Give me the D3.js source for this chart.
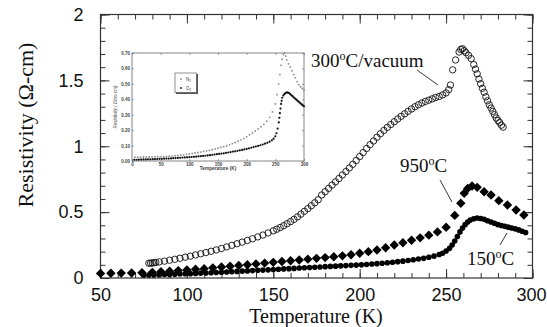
<!DOCTYPE html>
<html><head><meta charset="utf-8">
<script src="https://cdn.jsdelivr.net/npm/d3@7"></script>
<style>body{margin:0;background:#fff}svg{display:block}</style>
</head><body><svg id="c" width="547" height="327"></svg>
<script>
// ---- data ----
const xTicksMajor = [50,100,150,200,250,300];
const yTicksMajor = [0,0.5,1,1.5,2];
const yTickLabels = ["0","0.5","1","1.5","2"];

const vacuumT = [78,79,80,81,82,84,87,90,93,96,99,102,105,108,111,114,117,120,123,126,129,132,135,138,141,144,147,150,152,154,156,158,160,162,164,166,168,170,172,174,176,178,180,182,184,186,188,190,192,194,196,198,200,202,204,206,208,210,212,214,216,218,220,222,224,226,228,230,232,234,236,238,240,242,244,246,248,250,251.5,252.5,253.8,255.5,257.5,258.5,259.5,260.5,261.5,263,264.5,266,267,268,269,270,271,272,273,274,275,276,277,278,279,280,281,282,283];
const vacuumRho = [0.112,0.113,0.114,0.116,0.118,0.122,0.128,0.135,0.142,0.150,0.158,0.166,0.175,0.184,0.193,0.203,0.213,0.224,0.236,0.248,0.260,0.272,0.285,0.298,0.312,0.326,0.342,0.358,0.370,0.383,0.397,0.412,0.428,0.445,0.464,0.485,0.506,0.527,0.549,0.571,0.594,0.63,0.655,0.68,0.705,0.73,0.755,0.782,0.808,0.835,0.863,0.892,0.922,0.952,0.983,1.012,1.04,1.068,1.095,1.12,1.143,1.165,1.186,1.207,1.227,1.246,1.265,1.283,1.300,1.315,1.328,1.340,1.350,1.360,1.370,1.378,1.390,1.405,1.43,1.465,1.58,1.655,1.715,1.735,1.74,1.725,1.71,1.69,1.665,1.62,1.585,1.55,1.51,1.475,1.44,1.41,1.375,1.345,1.315,1.29,1.265,1.24,1.215,1.195,1.18,1.16,1.145];

const t950 = [50,56,62,68,74,80,85,90,95,100,105,110,115,120,125,130,135,140,145,150,155,160,165,170,175,180,185,190,195,200,205,210,215,220,225,230,235,240,245,250,255,258.5,260.5,262.5,265,268,272,276,280.5,285.5,290.5,295];
const rho950 = [0.035,0.036,0.037,0.038,0.040,0.043,0.047,0.051,0.056,0.061,0.066,0.071,0.077,0.083,0.089,0.095,0.101,0.107,0.113,0.119,0.125,0.131,0.137,0.143,0.149,0.155,0.161,0.168,0.176,0.188,0.200,0.213,0.230,0.250,0.268,0.287,0.305,0.325,0.350,0.385,0.475,0.567,0.643,0.68,0.698,0.688,0.655,0.63,0.587,0.554,0.516,0.478];

const t150 = [75,78,81,84,87,90,93,96,99,102,105,108,111,114,117,120,123,126,129,132,135,138,141,144,147,150,153,156,159,162,165,168,171,174,177,180,183,186,189,192,195,198,201,204,207,210,213,216,219,222,225,228,231,234,237,240,243,246,248,250,252,253.5,255,256.5,258,259.5,261,262.5,264,266,268,270,272,274,276,278,280,282,284,286,288,290,292,294,296];
const rho150 = [0.022,0.023,0.024,0.025,0.026,0.027,0.029,0.030,0.032,0.033,0.035,0.037,0.038,0.040,0.042,0.044,0.046,0.048,0.050,0.052,0.054,0.056,0.058,0.060,0.062,0.064,0.066,0.069,0.071,0.073,0.076,0.078,0.080,0.082,0.084,0.086,0.088,0.090,0.092,0.094,0.096,0.098,0.100,0.103,0.106,0.109,0.112,0.116,0.120,0.124,0.128,0.133,0.138,0.144,0.150,0.157,0.166,0.178,0.188,0.205,0.225,0.25,0.28,0.315,0.35,0.38,0.405,0.425,0.44,0.45,0.455,0.452,0.445,0.435,0.425,0.415,0.405,0.398,0.392,0.386,0.38,0.373,0.365,0.355,0.345];

// inset
const insetXTicks = [0,50,100,150,200,250,300];
const insetYTicks = [0,0.1,0.2,0.3,0.4,0.5,0.6,0.7];
const insetN2T = [5,10,15,20,25,30,35,40,45,50,55,60,65,70,75,80,85,90,95,100,105,110,115,120,125,130,135,140,145,150,155,160,165,170,175,180,185,190,195,200,205,210,215,220,225,230,235,240,245,250,253,256,258,260,262,264,266,268,270,273,276,279,282,285,288,291,294,297,300];
const insetN2 = [0.025,0.025,0.025,0.026,0.026,0.026,0.027,0.027,0.028,0.028,0.029,0.030,0.031,0.032,0.034,0.036,0.038,0.040,0.043,0.046,0.049,0.052,0.055,0.058,0.062,0.065,0.069,0.073,0.078,0.083,0.088,0.093,0.099,0.105,0.112,0.120,0.128,0.137,0.147,0.158,0.170,0.182,0.195,0.208,0.222,0.238,0.258,0.283,0.318,0.37,0.43,0.50,0.56,0.62,0.66,0.69,0.70,0.68,0.655,0.63,0.61,0.585,0.56,0.54,0.515,0.495,0.48,0.47,0.46];
const insetO2T = [4,8,12,16,20,24,28,32,36,40,44,48,52,56,60,64,68,72,76,80,84,88,92,96,100,104,108,112,116,120,124,128,132,136,140,144,148,152,156,160,164,168,172,176,180,184,188,192,196,200,204,208,212,216,220,224,228,232,236,240,244,247,250,252,254,256,257,258,259,260,261,262,264,266,268,270,272,274,276,278,280,282,284,286,288,290,292,294,296,298,300];
const insetO2 = [0.008,0.008,0.009,0.009,0.010,0.010,0.011,0.011,0.012,0.012,0.013,0.014,0.014,0.015,0.016,0.016,0.017,0.018,0.019,0.020,0.021,0.022,0.023,0.024,0.025,0.026,0.027,0.028,0.030,0.031,0.033,0.034,0.036,0.038,0.040,0.042,0.044,0.046,0.048,0.050,0.053,0.055,0.058,0.061,0.063,0.066,0.069,0.072,0.075,0.078,0.082,0.086,0.090,0.094,0.098,0.102,0.107,0.112,0.118,0.125,0.134,0.145,0.16,0.18,0.21,0.25,0.28,0.31,0.34,0.37,0.39,0.41,0.425,0.435,0.44,0.445,0.443,0.44,0.433,0.426,0.42,0.413,0.406,0.40,0.393,0.386,0.38,0.373,0.367,0.36,0.355];

// ---- chart ----
const svg = d3.select("#c");
const L=100.5, R=532.5, T=14.5, B=278;
const x = d3.scaleLinear().domain([50,300]).range([L,R]);
const y = d3.scaleLinear().domain([0,2]).range([B,T]);
const frameColor="#333";

const minorX = d3.range(50,301,10), minorY = d3.range(0,2.001,0.1);
function axisGroup(axis, tf){ const g=svg.append("g").attr("transform",tf).call(axis); g.select(".domain").remove(); g.selectAll("line").attr("stroke",frameColor).attr("stroke-width",1); return g; }
axisGroup(d3.axisBottom(x).tickValues(minorX).tickSize(-5).tickFormat(""), `translate(0,${B})`);
axisGroup(d3.axisTop(x).tickValues(minorX).tickSize(-5).tickFormat(""), `translate(0,${T})`);
axisGroup(d3.axisLeft(y).tickValues(minorY).tickSize(-5).tickFormat(""), `translate(${L},0)`);
axisGroup(d3.axisRight(y).tickValues(minorY).tickSize(-5).tickFormat(""), `translate(${R},0)`);
const gx = axisGroup(d3.axisBottom(x).tickValues(xTicksMajor).tickSize(-9).tickPadding(10).tickFormat(d3.format("d")), `translate(0,${B})`);
axisGroup(d3.axisTop(x).tickValues(xTicksMajor).tickSize(-9).tickFormat(""), `translate(0,${T})`);
const gy = axisGroup(d3.axisLeft(y).tickValues(yTicksMajor).tickSize(-9).tickPadding(17).tickFormat((d,i)=>yTickLabels[i]), `translate(${L},0)`);
axisGroup(d3.axisRight(y).tickValues(yTicksMajor).tickSize(-9).tickFormat(""), `translate(${R},0)`);
[gx,gy].forEach(g=>g.selectAll("text").attr("font-family","Liberation Sans, Arial, sans-serif").attr("font-size",18).attr("fill","#111"));
gx.selectAll("text").filter(d=>d===300).attr("dx",-1.5);

svg.append("rect").attr("x",L).attr("y",T).attr("width",R-L).attr("height",B-T)
  .attr("fill","none").attr("stroke",frameColor).attr("stroke-width",1.2);

// axis titles
svg.append("text").attr("x",316).attr("y",323).attr("text-anchor","middle")
  .attr("font-family","Liberation Serif, Times New Roman, serif").attr("font-size",20).attr("fill","#111")
  .text("Temperature (K)");
svg.append("text").attr("transform","translate(33,125) rotate(-90)").attr("text-anchor","middle")
  .attr("font-family","Liberation Serif, Times New Roman, serif").attr("font-size",22).attr("fill","#111")
  .text("Resistivity (Ω-cm)");

// 150°C series (dense filled dots)
svg.append("g").selectAll("circle").data(t150.map((t,i)=>[t,rho150[i]])).join("circle")
  .attr("cx",d=>x(d[0])).attr("cy",d=>y(d[1])).attr("r",2.8).attr("fill","#000");

// 950°C diamonds
const diamond = d3.symbol().type(d3.symbolSquare).size(44);
svg.append("g").selectAll("path").data(t950.map((t,i)=>[t,rho950[i]])).join("path")
  .attr("d",diamond).attr("transform",d=>`translate(${x(d[0])},${y(d[1])}) rotate(45)`).attr("fill","#000");

// 300°C/vacuum open circles
svg.append("g").selectAll("circle").data(vacuumT.map((t,i)=>[t,vacuumRho[i]])).join("circle")
  .attr("cx",d=>x(d[0])).attr("cy",d=>y(d[1])).attr("r",3.2)
  .attr("fill","none").attr("stroke","#111").attr("stroke-width",0.9);

// annotations
function label(xp,yp,num){
  const t=svg.append("text").attr("x",xp).attr("y",yp)
    .attr("font-family","Liberation Serif, Times New Roman, serif").attr("font-size",19).attr("fill","#111");
  t.append("tspan").text(num[0]);
  t.append("tspan").attr("dy",-7).attr("font-size",12).text("o");
  t.append("tspan").attr("dy",7).text(num[1]);
}
label(311,67,["300","C/vacuum"]);
label(400,172,["950","C"]);
label(467,265,["150","C"]);
const lead=[[417,70,438,85],[440,180,452,202],[500,245,507,233]];
svg.append("g").selectAll("line").data(lead).join("line")
  .attr("x1",d=>d[0]).attr("y1",d=>d[1]).attr("x2",d=>d[2]).attr("y2",d=>d[3])
  .attr("stroke","#222").attr("stroke-width",0.9);

// ---- inset ----
const iL=132, iR=304, iT=53, iB=161;
const ix = d3.scaleLinear().domain([0,300]).range([iL,iR]);
const iy = d3.scaleLinear().domain([0,0.7]).range([iB,iT]);
const ig = svg.append("g");
ig.append("rect").attr("x",iL).attr("y",iT).attr("width",iR-iL).attr("height",iB-iT)
  .attr("fill","#fff").attr("stroke","#666").attr("stroke-width",0.8);
function insetAxis(axis,tf){ const g=ig.append("g").attr("transform",tf).call(axis); g.select(".domain").remove(); g.selectAll("line").attr("stroke","#666").attr("stroke-width",0.6); g.selectAll("text").attr("font-family","Liberation Sans, Arial, sans-serif").attr("font-size",4.5).attr("font-weight","bold").attr("fill","#444"); return g; }
insetAxis(d3.axisBottom(ix).tickValues(insetXTicks).tickSize(-2).tickPadding(2), `translate(0,${iB})`);
insetAxis(d3.axisTop(ix).tickValues(insetXTicks).tickSize(-2).tickFormat(""), `translate(0,${iT})`);
insetAxis(d3.axisLeft(iy).tickValues(insetYTicks).tickSize(-2).tickPadding(2), `translate(${iL},0)`);
insetAxis(d3.axisRight(iy).tickValues(insetYTicks).tickSize(-2).tickFormat(""), `translate(${iR},0)`);
ig.append("text").attr("x",(iL+iR)/2).attr("y",iB+9).attr("text-anchor","middle")
  .attr("font-family","Liberation Sans, Arial, sans-serif").attr("font-size",4.8).attr("font-weight","bold").attr("fill","#444")
  .text("Temperature (K)");
ig.append("text").attr("transform",`translate(117,${(iT+iB)/2}) rotate(-90)`).attr("text-anchor","middle")
  .attr("font-family","Liberation Sans, Arial, sans-serif").attr("font-size",4.5).attr("font-style","italic").attr("fill","#444")
  .text("Resistivity ( Ohm-cm)");
ig.append("g").selectAll("circle").data(insetN2T.map((t,i)=>[t,insetN2[i]])).join("circle")
  .attr("cx",d=>ix(d[0])).attr("cy",d=>iy(d[1])).attr("r",0.9).attr("fill","#8a8a8a");
ig.append("g").selectAll("circle").data(insetO2T.map((t,i)=>[t,insetO2[i]])).join("circle")
  .attr("cx",d=>ix(d[0])).attr("cy",d=>iy(d[1])).attr("r",1.1).attr("fill","#111");
// inset legend
const lg = ig.append("g");
lg.append("rect").attr("x",176).attr("y",74).attr("width",22).attr("height",20).attr("fill","#555");
lg.append("rect").attr("x",175).attr("y",73).attr("width",21.5).attr("height",19.5).attr("fill","#fff").attr("stroke","#444").attr("stroke-width",0.6);
const legItems=[["N","2","#8a8a8a",79],["O","2","#111",88]];
legItems.forEach(d=>{
  lg.append("circle").attr("cx",181).attr("cy",d[3]).attr("r",0.9).attr("fill",d[2]);
  const t=lg.append("text").attr("x",186).attr("y",d[3]+1.5).attr("font-family","Liberation Sans, Arial, sans-serif").attr("font-size",4.5).attr("fill","#333");
  t.append("tspan").text(d[0]); t.append("tspan").attr("dy",1.5).attr("font-size",3).text(d[1]);
});
</script></body></html>
